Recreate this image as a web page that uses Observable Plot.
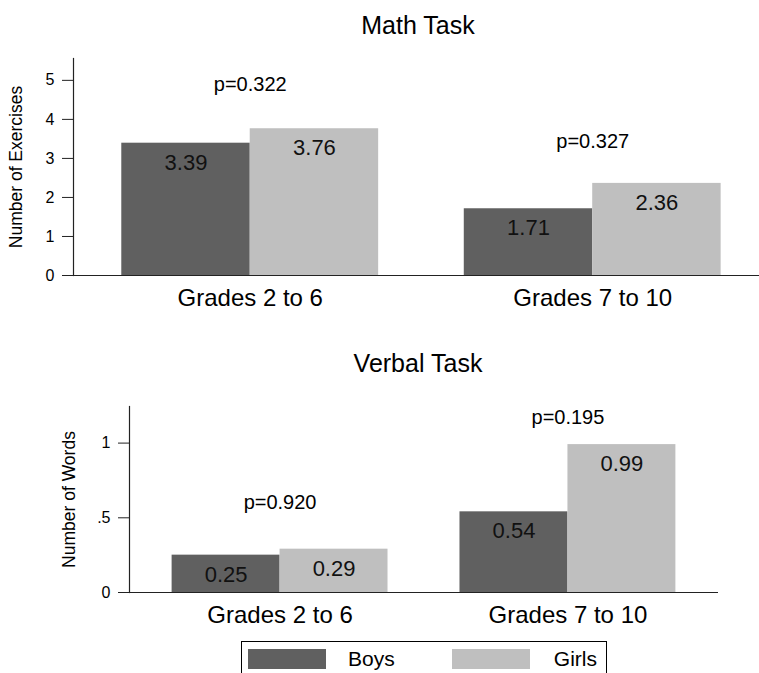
<!DOCTYPE html>
<html><head><meta charset="utf-8">
<script src="https://cdn.jsdelivr.net/npm/d3@7"></script>
<script src="https://cdn.jsdelivr.net/npm/@observablehq/plot@0.6"></script>
<style>
html,body{margin:0;padding:0;background:#fff;width:759px;height:673px;overflow:hidden;font-family:"Liberation Sans",Arial,Helvetica,sans-serif;}
.abs{position:absolute;}
.title{position:absolute;left:218px;width:400px;text-align:center;font-size:25px;line-height:25px;color:#000;z-index:2;}
#legend{position:absolute;left:241px;top:641px;width:364px;height:44px;border:1px solid #000;background:#fff;z-index:2;}
.sw{position:absolute;top:7px;width:78px;height:20px;}
.lt{position:absolute;top:6px;font-size:21px;line-height:21px;color:#000;}
</style></head>
<body>
<div id="math" class="abs" style="left:0;top:0"></div>
<div id="verbal" class="abs" style="left:0;top:330px"></div>
<div class="title" style="top:13px">Math Task</div>
<div class="title" style="top:351px">Verbal Task</div>
<div id="legend">
  <div class="sw" style="left:6px;background:#606060"></div>
  <div class="lt" style="left:106px">Boys</div>
  <div class="sw" style="left:210px;background:#bfbfbf"></div>
  <div class="lt" style="right:9px">Girls</div>
</div>
<script>
const grades = ["Grades 2 to 6", "Grades 7 to 10"];
const sexes = ["Boys", "Girls"];
const sexColors = ["#606060", "#bfbfbf"];
const mathBoys = [3.39, 1.71];
const mathGirls = [3.76, 2.36];
const mathP = ["p=0.322", "p=0.327"];
const mathPY = [4.90, 3.43];
const verbalBoys = [0.25, 0.54];
const verbalGirls = [0.29, 0.99];
const verbalP = ["p=0.920", "p=0.195"];
const verbalPY = [0.60, 1.17];
const mathTicks = [0, 1, 2, 3, 4, 5];
const mathTickLabels = ["0", "1", "2", "3", "4", "5"];
const verbalTicks = [0, 0.5, 1];
const verbalTickLabels = ["0", ".5", "1"];

const FONT = '"Liberation Sans", Arial, Helvetica, sans-serif';
const HALF = 0.375; // each bar's width as a fraction of group spacing

function rowsOf(boys, girls) {
  const rows = [];
  grades.forEach((g, i) => {
    rows.push({g: i, sex: "Boys", value: boys[i], y0: 0, x1: i - HALF, x2: i, xc: i - HALF / 2});
    rows.push({g: i, sex: "Girls", value: girls[i], y0: 0, x1: i, x2: i + HALF, xc: i + HALF / 2});
  });
  return rows;
}
function pRowsOf(labels, ys) {
  return labels.map((p, i) => ({g: i, p, py: ys[i]}));
}

function panel(o) {
  return Plot.plot({
    width: 759, height: o.height,
    marginLeft: o.marginLeft, marginRight: o.marginRight,
    marginTop: o.marginTop, marginBottom: o.marginBottom,
    style: {fontFamily: FONT, fontSize: "16px", background: "transparent", color: "#000", overflow: "visible"},
    x: {type: "linear", domain: o.xDomain, axis: null},
    y: {domain: o.yDomain, axis: null},
    color: {domain: sexes, range: sexColors},
    marks: [
      Plot.rect(o.rows, {x1: "x1", x2: "x2", y1: "y0", y2: "value", fill: "sex"}),
      Plot.text(o.rows, {x: "xc", y: "value", text: d => d.value.toFixed(2), lineAnchor: "top", dy: 11, fontSize: 22, fill: "#111"}),
      Plot.text(o.pRows, {x: "g", y: "py", text: "p", fontSize: 20, fill: "#000"}),
      Plot.ruleY([0], {stroke: "#222", strokeWidth: 1.2}),
      Plot.frame({anchor: "left", stroke: "#222", strokeWidth: 1.2}),
      Plot.axisY({ticks: o.ticks, tickFormat: (d, i) => o.tickLabels[i], tickSize: 11, tickPadding: 8, fontSize: 16, label: null, stroke: "#222"}),
      Plot.axisX({ticks: [0, 1], tickFormat: i => grades[i], tickSize: 0, tickPadding: 13, fontSize: 24, label: null}),
      Plot.text([o.ylabel], {frameAnchor: "left", textAnchor: "middle", rotate: -90, dx: o.ylabelDx, text: d => d, fontSize: 17.5, fill: "#000"})
    ]
  });
}

document.getElementById("math").appendChild(panel({
  height: 320, marginLeft: 73, marginRight: 0, marginTop: 58, marginBottom: 45,
  xDomain: [-0.516, 1.487], yDomain: [0, 5.56],
  rows: rowsOf(mathBoys, mathGirls), pRows: pRowsOf(mathP, mathPY),
  ticks: mathTicks, tickLabels: mathTickLabels,
  ylabel: "Number of Exercises", ylabelDx: -57
}));

document.getElementById("verbal").appendChild(panel({
  height: 300, marginLeft: 129, marginRight: 41, marginTop: 76, marginBottom: 38,
  xDomain: [-0.523, 1.523], yDomain: [0, 1.245],
  rows: rowsOf(verbalBoys, verbalGirls), pRows: pRowsOf(verbalP, verbalPY),
  ticks: verbalTicks, tickLabels: verbalTickLabels,
  ylabel: "Number of Words", ylabelDx: -60
}));
</script>
</body></html>
